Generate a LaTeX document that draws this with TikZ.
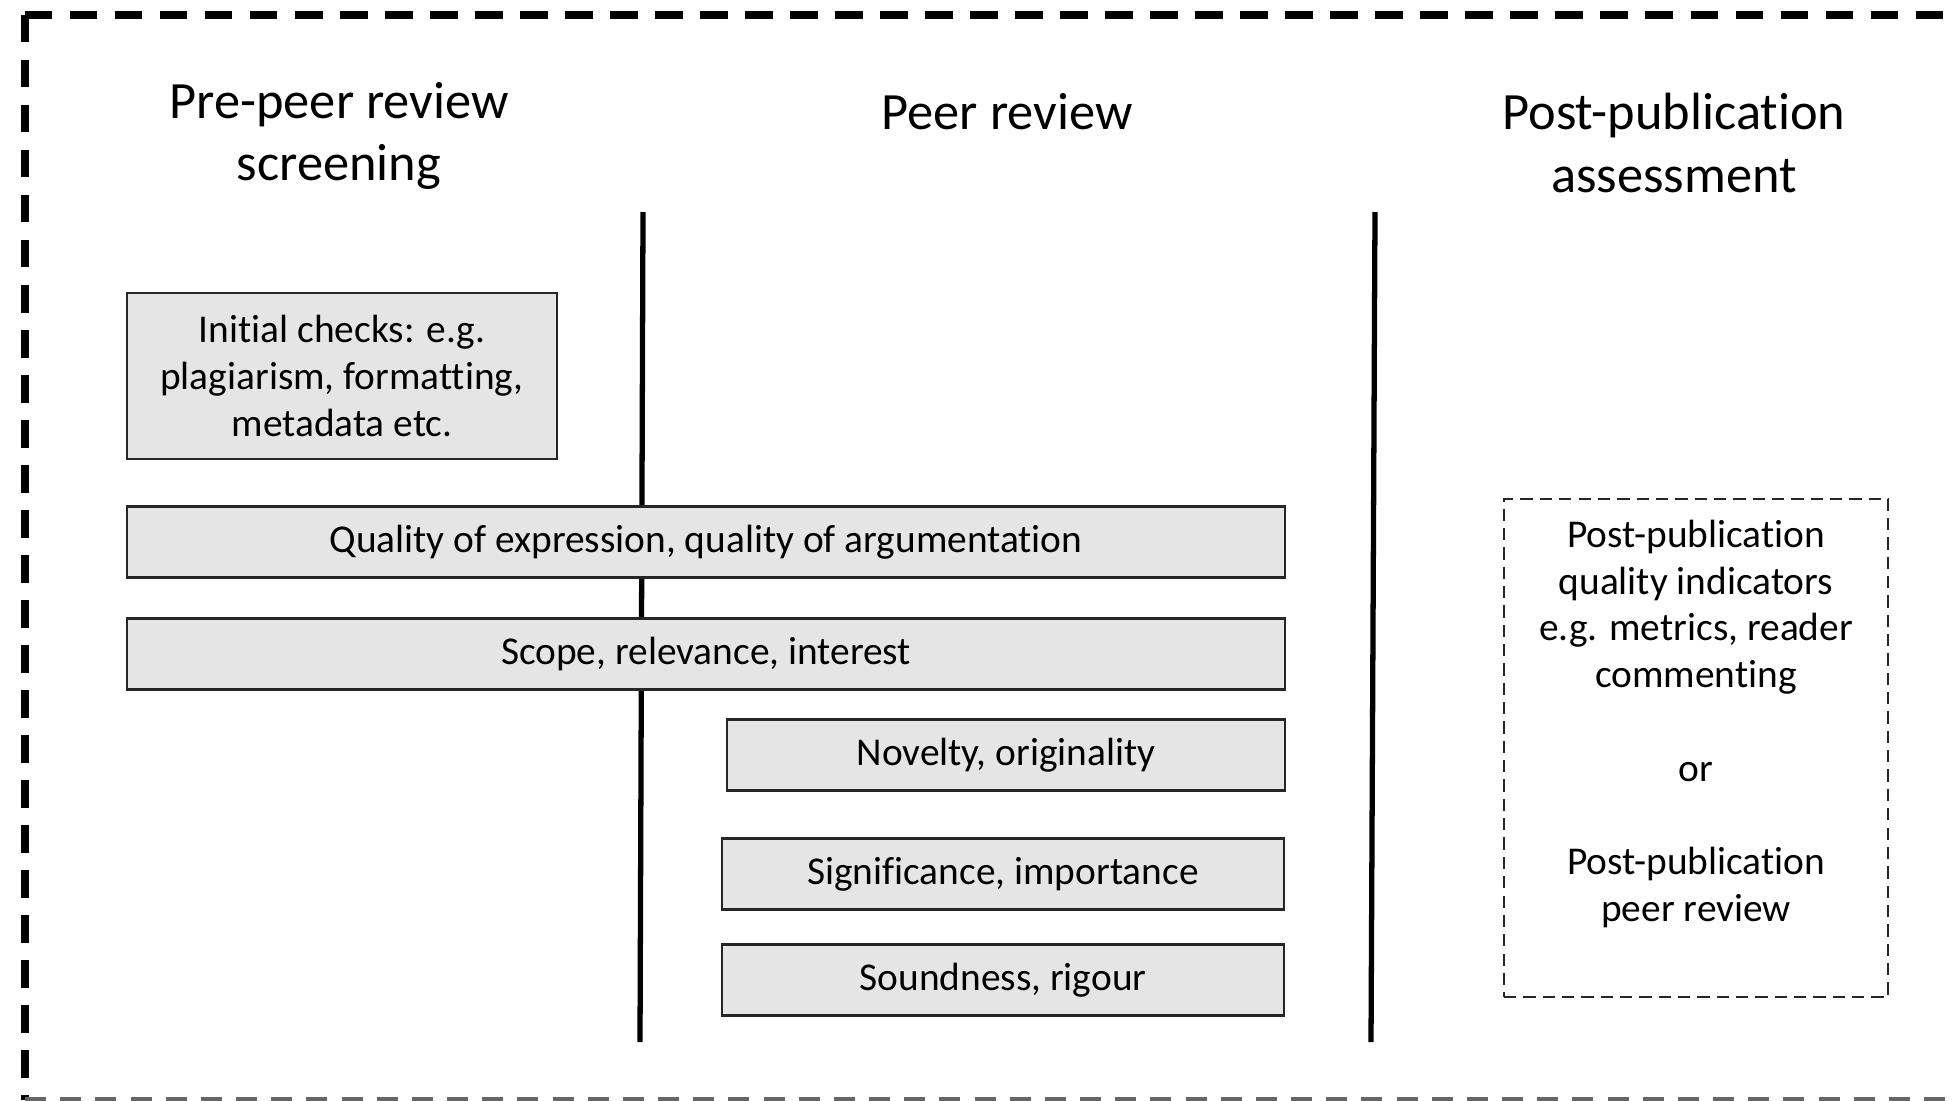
\documentclass[tikz,border=0pt]{standalone}
\usepackage{fontspec}
\setmainfont{Carlito}[Ligatures=NoCommon]
\usetikzlibrary{positioning}

\begin{document}
\begin{tikzpicture}[x=0.01cm, y=-0.01cm,
		stage/.style={font=\fontsize{14.9}{17.8}\selectfont, align=center},
		crit/.style={draw=black!85, fill=gray!20, line width=0.6pt, minimum height=0.71cm, inner sep=0pt, align=center, font=\fontsize{11.2}{13.3}\selectfont},
		postbox/.style={draw=black!85, line width=0.6pt, dash pattern=on 3.5pt off 2pt, minimum width=3.84cm, minimum height=4.98cm},
		divider/.style={line width=1.5pt}]
		\useasboundingbox (0,0) rectangle (1955,1100);
		% outer frame
		\draw[line width=2.2pt, dash pattern=on 7.8pt off 5pt] (25,15) -- (1990,15);
		\draw[line width=2.2pt, dash pattern=on 7.8pt off 5pt] (25,15) -- (25,1100);
		\draw[line width=1pt, black!60, dash pattern=on 6pt off 4pt] (25,1099) -- (1990,1099);
		% stage titles
		\node[stage] (pre) at (339,136) {Pre-peer review\\screening};
		\node[stage] (peer) at (1007,112) {Peer review};
		\node[stage] (post) at (1674,143) {Post-publication\\assessment};
		% dividers
		\coordinate (div1top) at (643,212);
		\coordinate (div1bot) at (640,1042);
		\coordinate (div2top) at (1375,212);
		\coordinate (div2bot) at (1371,1042);
		\draw[divider] (div1top) -- (div1bot);
		\draw[divider] (div2top) -- (div2bot);
		% criteria
		\node[crit, minimum width=4.29cm, minimum height=1.66cm] (init) at (342,376) {Initial checks: e.g.\\plagiarism, formatting,\\metadata etc.};
		\node[crit, minimum width=11.57cm] (quality) at (706,542) {Quality of expression, quality of argumentation};
		\node[crit, minimum width=11.57cm] (scope) at (706,654) {Scope, relevance, interest};
		\node[crit, minimum width=5.57cm] (novelty) at (1006,755) {Novelty, originality};
		\node[crit, minimum width=5.62cm] (signif) at (1003,874) {Significance, importance};
		\node[crit, minimum width=5.62cm] (sound) at (1003,980) {Soundness, rigour};
		% post-publication
		\node[postbox] (ppbox) at (1696,748) {};
		\node[align=center, font=\fontsize{11.2}{13.3}\selectfont] (pptext) at (1696,724) {Post-publication\\quality indicators\\e.g. metrics, reader\\commenting\\[13.3pt]or\\[13.3pt]Post-publication\\peer review};
	\end{tikzpicture}
\end{document}
